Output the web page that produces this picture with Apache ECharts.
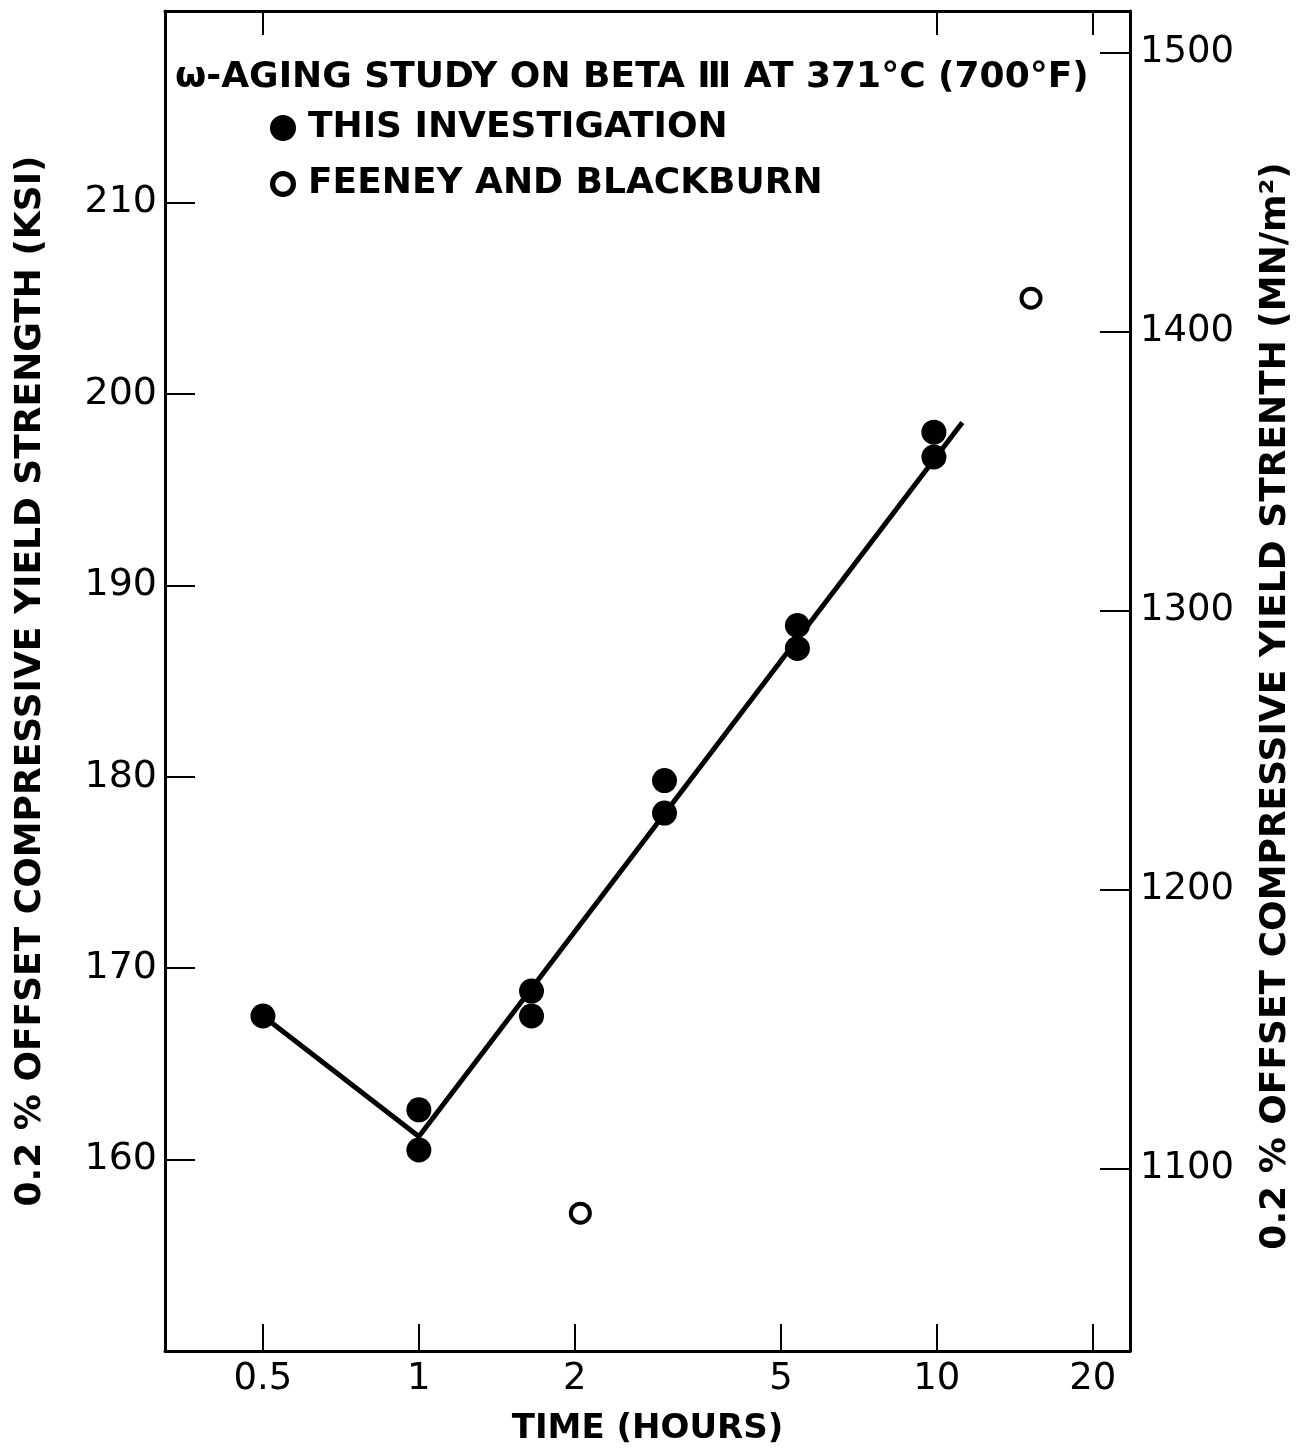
<!DOCTYPE html>
<html>
<head>
<meta charset="utf-8">
<script src="https://cdn.jsdelivr.net/npm/echarts@6/dist/echarts.min.js"></script>
<style>
html,body{margin:0;padding:0;background:#fff;}
#c{width:1302px;height:1451px;}
</style>
</head>
<body>
<div id="c"></div>
<script>
// ---- data ----
const hoursThis = [0.5, 1, 1, 1.65, 1.65, 2.98, 2.98, 5.38, 5.38, 9.87, 9.87];
const ksiThis   = [167.5, 162.6, 160.5, 168.8, 167.5, 179.8, 178.1, 187.9, 186.7, 198.0, 196.7];
const hoursFB   = [2.05, 15.2];
const ksiFB     = [157.2, 205.0];
const fitHours  = [0.5, 1, 11.2];
const fitKsi    = [167.5, 161.2, 198.5];
const timeTicks = [0.5, 1, 2, 5, 10, 20];
const topTicks  = [0.5, 10, 20];
const ksiTicks  = [160, 170, 180, 190, 200, 210];
const mpaTicks  = [1100, 1200, 1300, 1400, 1500];

const FONT = '"DejaVu Sans", sans-serif';
const zip = (a, b) => a.map((v, i) => [v, b[i]]);

const chart = echarts.init(document.getElementById('c'), null, {renderer: 'canvas'});

const axisLineStyle = {color: '#000', width: 3};
const tickStyle = {color: '#000', width: 2};
const legendText = {fontFamily: FONT, fontWeight: 'bold', fontSize: 36, color: '#000'};
const ringIcon = 'path://M0,10 A10,10 0 1,0 20,10 A10,10 0 1,0 0,10 Z M4,10 A6,6 0 1,1 16,10 A6,6 0 1,1 4,10 Z';

chart.setOption({
  backgroundColor: '#fff',
  animation: false,
  title: {
    text: 'ω-AGING STUDY ON BETA Ⅲ AT 371°C (700°F)',
    left: 170, top: 55,
    textStyle: {fontFamily: FONT, fontWeight: 'bold', fontSize: 36, color: '#000'}
  },
  legend: [{
    orient: 'vertical',
    left: 270, top: 110, padding: 0,
    itemWidth: 26, itemHeight: 26,
    icon: 'circle',
    textStyle: Object.assign({padding: [0, 0, 0, 7]}, legendText),
    data: ['THIS INVESTIGATION']
  }, {
    orient: 'vertical',
    left: 270, top: 166, padding: 0,
    itemWidth: 26, itemHeight: 26,
    icon: ringIcon,
    itemStyle: {color: '#000', borderWidth: 0},
    textStyle: Object.assign({padding: [0, 0, 0, 7]}, legendText),
    data: ['FEENEY AND BLACKBURN']
  }],
  grid: {left: 165, right: 172, top: 11, bottom: 98, containLabel: false},
  xAxis: [{
    type: 'log', logBase: 10, min: 0.3235, max: 23.6,
    name: 'TIME (HOURS)', nameLocation: 'middle', nameGap: 61,
    nameTextStyle: {fontFamily: FONT, fontWeight: 'bold', fontSize: 34, color: '#000'},
    axisLine: {onZero: false, lineStyle: axisLineStyle},
    axisTick: {inside: true, length: 27, lineStyle: tickStyle, customValues: timeTicks},
    axisLabel: {margin: 10, fontFamily: FONT, fontSize: 37, color: '#000', customValues: timeTicks,
                formatter: v => String(v)},
    minorTick: {show: false},
    splitLine: {show: false}
  }, {
    type: 'log', logBase: 10, min: 0.3235, max: 23.6, position: 'top',
    axisLine: {onZero: false, lineStyle: axisLineStyle},
    axisTick: {inside: true, length: 24, lineStyle: tickStyle, customValues: topTicks},
    axisLabel: {show: false},
    splitLine: {show: false}
  }],
  yAxis: [{
    type: 'value', min: 150, max: 220, position: 'left',
    name: '0.2 % OFFSET COMPRESSIVE YIELD STRENGTH (KSI)', nameLocation: 'middle', nameGap: 116,
    nameTextStyle: {fontFamily: FONT, fontWeight: 'bold', fontSize: 36, color: '#000'},
    axisLine: {show: true, onZero: false, lineStyle: axisLineStyle},
    axisTick: {show: true, inside: true, length: 30, lineStyle: tickStyle, customValues: ksiTicks},
    axisLabel: {margin: 8, fontFamily: FONT, fontSize: 38, color: '#000', customValues: ksiTicks},
    splitLine: {show: false}
  }, {
    type: 'value', min: 1034.6, max: 1515, position: 'right',
    name: '0.2 % OFFSET COMPRESSIVE YIELD STRENTH (MN/m²)', nameLocation: 'middle', nameGap: 128,
    nameRotate: 90,
    nameTextStyle: {fontFamily: FONT, fontWeight: 'bold', fontSize: 36, color: '#000', padding: [0, 50, 0, 0]},
    axisLine: {show: true, onZero: false, lineStyle: axisLineStyle},
    axisTick: {show: true, inside: true, length: 30, lineStyle: tickStyle, customValues: mpaTicks},
    axisLabel: {margin: 10, fontFamily: FONT, fontSize: 37, color: '#000', customValues: mpaTicks,
                formatter: v => String(v)},
    splitLine: {show: false}
  }],
  series: [{
    name: 'FIT', type: 'line', xAxisIndex: 0, yAxisIndex: 0,
    data: zip(fitHours, fitKsi), showSymbol: false, symbol: 'none', silent: true,
    lineStyle: {color: '#000', width: 5}, z: 2
  }, {
    name: 'THIS INVESTIGATION', type: 'scatter', xAxisIndex: 0, yAxisIndex: 0,
    data: zip(hoursThis, ksiThis), symbol: 'circle', symbolSize: 25,
    itemStyle: {color: '#000', opacity: 1}, z: 3
  }, {
    name: 'FEENEY AND BLACKBURN', type: 'scatter', xAxisIndex: 0, yAxisIndex: 0,
    data: zip(hoursFB, ksiFB), symbol: 'circle', symbolSize: 19,
    itemStyle: {color: '#fff', borderColor: '#000', borderWidth: 4, opacity: 1}, z: 3
  }]
});
</script>
</body>
</html>
